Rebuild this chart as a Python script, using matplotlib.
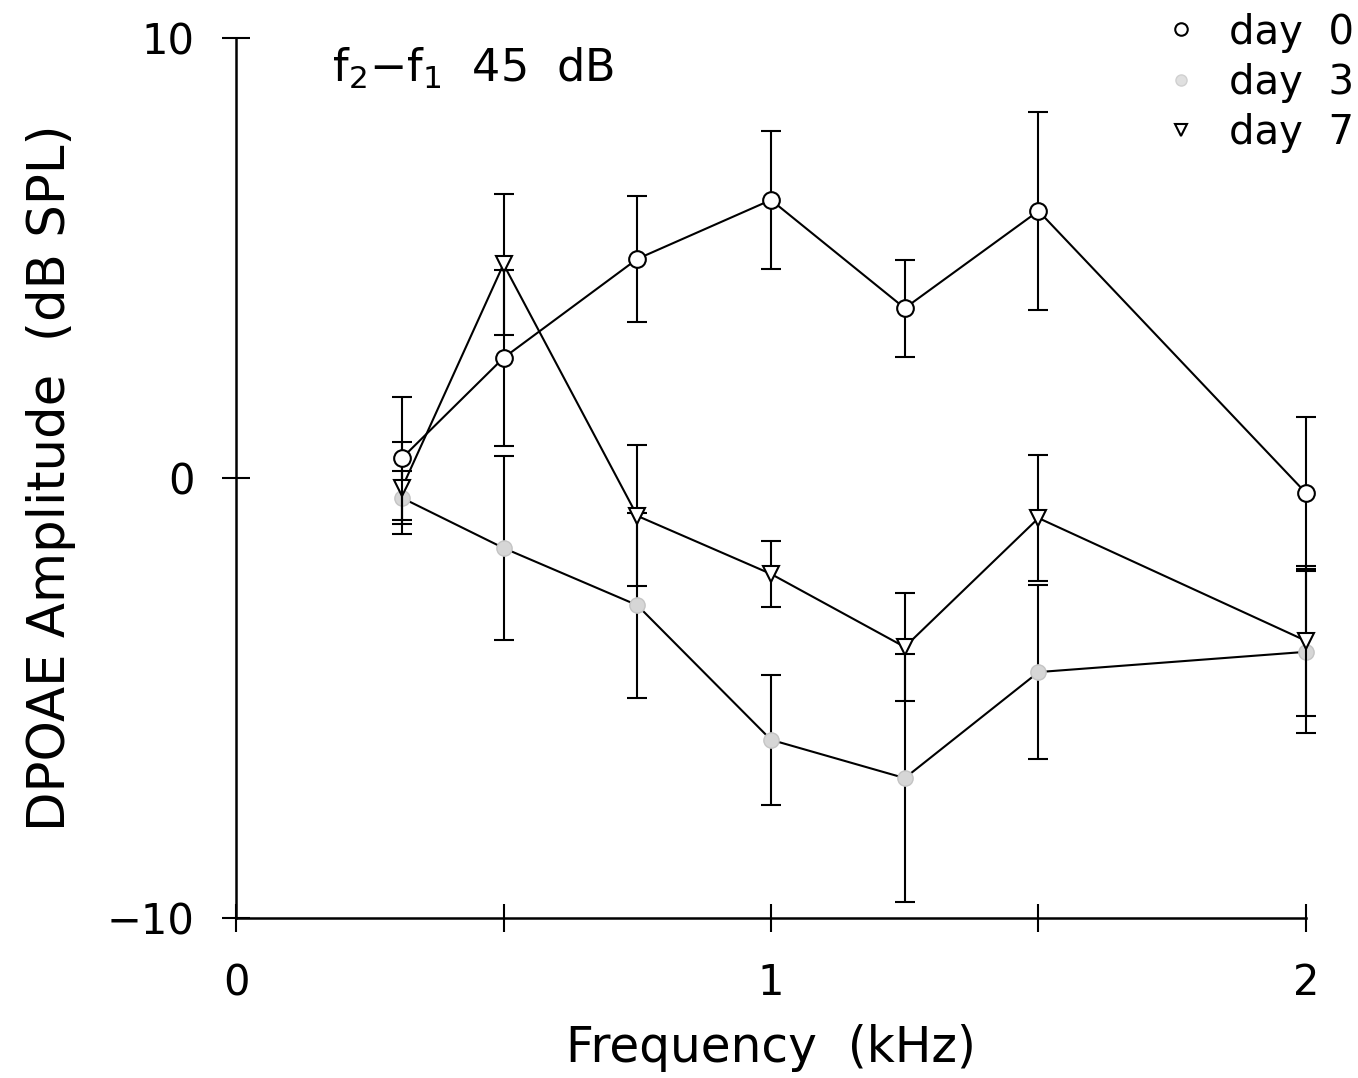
import matplotlib
matplotlib.use("Agg")
import matplotlib.pyplot as plt
from matplotlib.lines import Line2D

# frequências (kHz)
freq = [0.31, 0.5, 0.75, 1.0, 1.25, 1.5, 2.0]

# day 0
day0 = [0.45, 2.73, 4.98, 6.32, 3.86, 6.07, -0.34]
day0_err = [1.4, 2.0, 1.43, 1.56, 1.1, 2.24, 1.73]

# day 3
day3 = [-0.45, -1.59, -2.89, -5.95, -6.82, -4.41, -3.95]
day3_err = [0.6, 2.1, 2.1, 1.48, 2.82, 1.98, 1.84]

# day 7
day7 = [-0.23, 4.86, -0.86, -2.18, -3.84, -0.91, -3.7]
day7_err = [1.05, 1.6, 1.6, 0.75, 1.23, 1.43, 1.7]

plt.rcParams['font.family'] = 'DejaVu Sans'

fig = plt.figure(figsize=(13.58, 10.78), dpi=100)
ax = fig.add_axes([0.1738, 0.1484, 0.7879, 0.8163])

ebkw = dict(ecolor='black', elinewidth=1.5, capsize=7, capthick=1.5,
            color='black', linewidth=1.5, clip_on=False)

ax.errorbar(freq, day3, yerr=day3_err, marker='o', markersize=11,
            markerfacecolor='#d6d6d6', markeredgecolor='#c4c4c4', zorder=3, **ebkw)
ax.errorbar(freq, day7, yerr=day7_err, marker='v', markersize=12,
            markerfacecolor='white', markeredgecolor='black', markeredgewidth=1.5,
            zorder=4, **ebkw)
ax.errorbar(freq, day0, yerr=day0_err, marker='o', markersize=12,
            markerfacecolor='white', markeredgecolor='black', markeredgewidth=1.5,
            zorder=5, **ebkw)

ax.set_xlim(0, 2)
ax.set_ylim(-10, 10)
ax.set_xticks([0, 0.5, 1, 1.5, 2])
ax.set_xticklabels(['0', '', '1', '', '2'])
ax.set_yticks([-10, 0, 10])
ax.set_yticklabels(['\u221210', '0', '10'])

for s in ['top', 'right']:
    ax.spines[s].set_visible(False)
for s in ['left', 'bottom']:
    ax.spines[s].set_linewidth(1.8)

ax.tick_params(axis='both', direction='inout', length=20, width=1.5,
               labelsize=30, pad=20)
ax.tick_params(axis='x', pad=22)

ax.set_xlabel('Frequency  (kHz)', fontsize=35, labelpad=14)
ax.set_ylabel('DPOAE Amplitude  (dB SPL)', fontsize=37, labelpad=22)

ax.text(0.09, 0.965, r'f$_2$$-$f$_1$  45  dB', transform=ax.transAxes,
        fontsize=32, va='center', ha='left')

handles = [
    Line2D([], [], linestyle='none', marker='o', markersize=9,
           markerfacecolor='white', markeredgecolor='black', markeredgewidth=1.5),
    Line2D([], [], linestyle='none', marker='o', markersize=8,
           markerfacecolor='#e0e0e0', markeredgecolor='#d0d0d0'),
    Line2D([], [], linestyle='none', marker='v', markersize=9,
           markerfacecolor='white', markeredgecolor='black', markeredgewidth=1.5),
]
fig.legend(handles, ['day  0', 'day  3', 'day  7'], loc='upper right',
           bbox_to_anchor=(1.024, 1.022), frameon=False, fontsize=29,
           handlelength=1.0, handletextpad=0.7, labelspacing=0.25)

fig.savefig('out.png', dpi=100)
